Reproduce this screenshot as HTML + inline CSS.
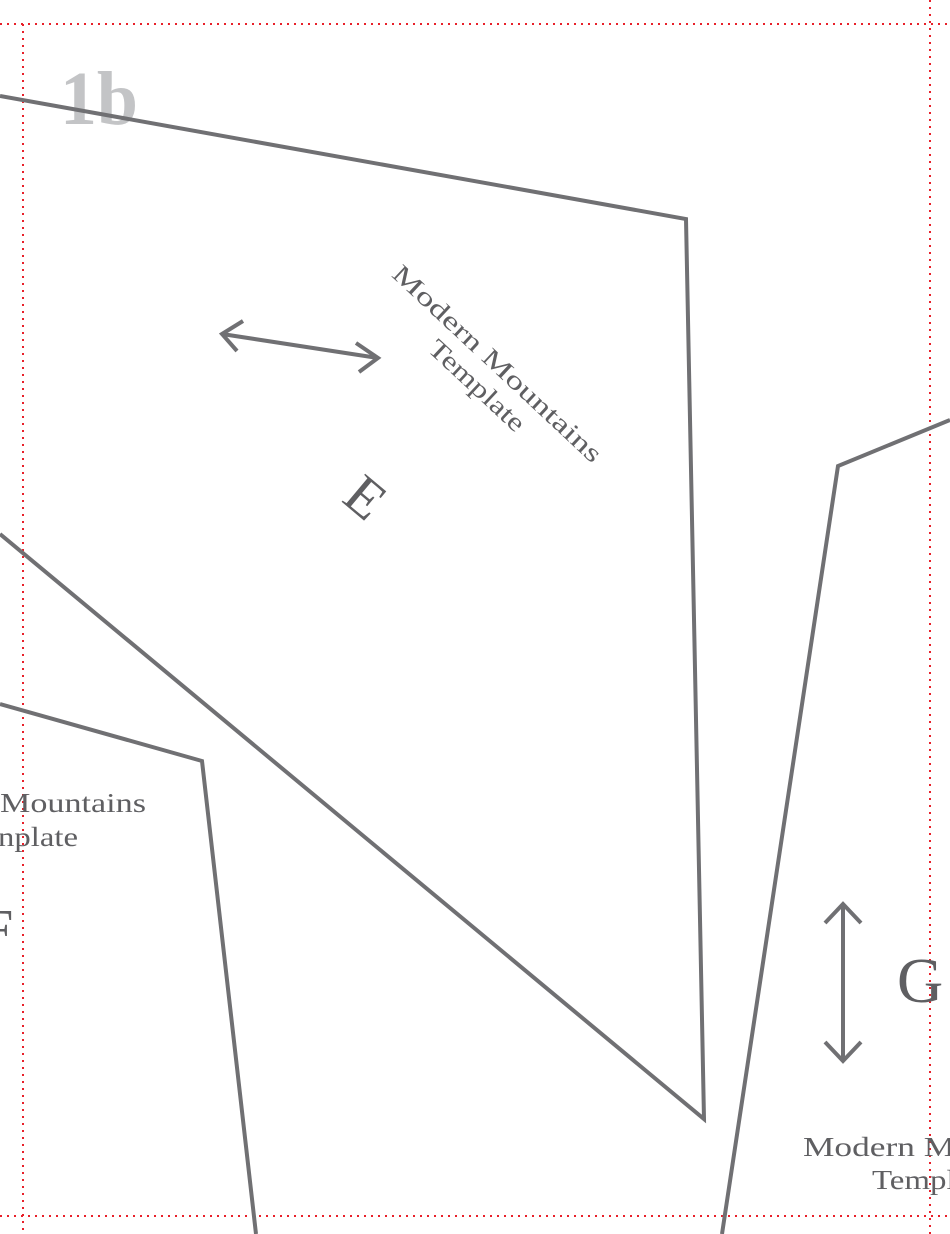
<!DOCTYPE html>
<html><head><meta charset="utf-8"><style>
html,body{margin:0;padding:0;background:#fff;width:950px;height:1234px;overflow:hidden}
svg{display:block}
text{font-family:"Liberation Serif",serif;fill:#5f5f62}
</style></head><body>
<svg width="950" height="1234" viewBox="0 0 950 1234">
<g stroke="#e8202a" stroke-width="2" stroke-dasharray="2 5" fill="none">
<line x1="0" y1="24" x2="950" y2="24"/>
<line x1="0" y1="1216" x2="950" y2="1216"/>
<line x1="23" y1="24" x2="23" y2="1234"/>
<line x1="930" y1="0" x2="930" y2="1234"/>
</g>
<text x="60" y="124" font-size="76" font-weight="bold" textLength="78" lengthAdjust="spacingAndGlyphs" style="fill:#c3c4c6">1b</text>
<g stroke="#707073" stroke-width="4" fill="none" stroke-linejoin="miter">
<polyline points="0,96 686,219 704,1119 0,534"/>
<polyline points="0,704 202,761 256,1234"/>
<polyline points="950,420 838,466 722,1234"/>
<line x1="222" y1="334" x2="378" y2="358"/>
<polyline points="243,321 222,334 237,351"/>
<polyline points="356,343 378,358 359,372"/>
<line x1="843" y1="904" x2="843" y2="1061"/>
<polyline points="825,923 843,904 861,923"/>
<polyline points="825,1042 843,1061 861,1042"/>
</g>
<g transform="translate(497,364) rotate(43)">
<text x="0" y="8" font-size="26" text-anchor="middle" textLength="276" lengthAdjust="spacingAndGlyphs">Modern Mountains</text>
<text x="0" y="38" font-size="26" text-anchor="middle" textLength="122" lengthAdjust="spacingAndGlyphs">Template</text>
</g>
<text transform="translate(365,498) rotate(40)" font-size="56" text-anchor="middle" dy="18">E</text>
<text x="0" y="812" font-size="27" textLength="146" lengthAdjust="spacingAndGlyphs">Mountains</text>
<text x="-2" y="846" font-size="27" textLength="80" lengthAdjust="spacingAndGlyphs">nplate</text>
<text x="-18" y="948" font-size="56">F</text>
<text x="897" y="1002" font-size="64">G</text>
<text x="803" y="1156" font-size="27" textLength="272" lengthAdjust="spacingAndGlyphs">Modern Mountains</text>
<text x="872" y="1189" font-size="27" textLength="122" lengthAdjust="spacingAndGlyphs">Template</text>
</svg>
</body></html>
